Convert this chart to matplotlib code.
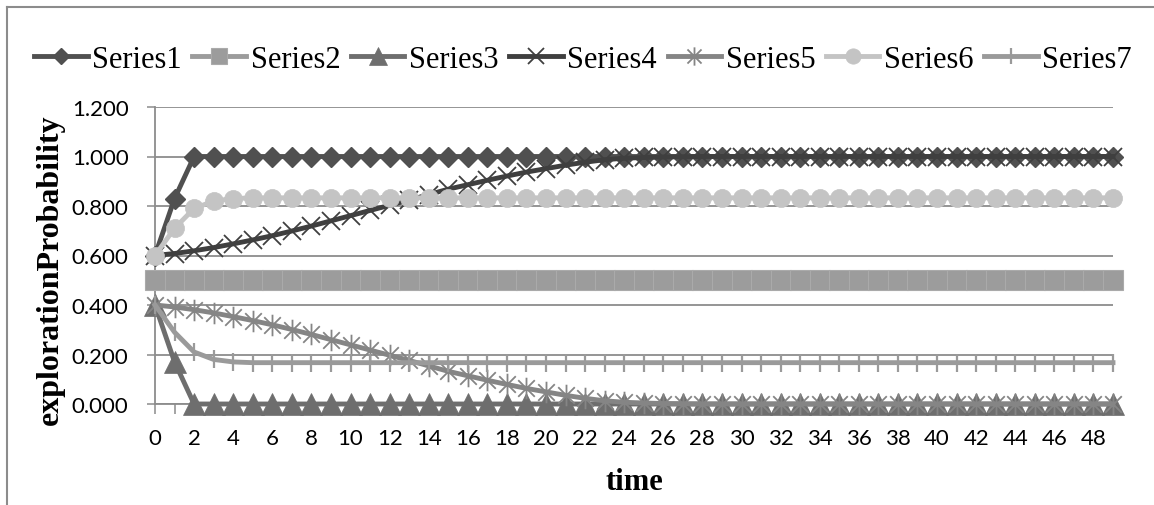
import matplotlib
matplotlib.use("Agg")
import matplotlib.pyplot as plt
from matplotlib.path import Path
from matplotlib.lines import Line2D

# data
time = list(range(50))
tick_labels = [str(t) if t % 2 == 0 else "" for t in time]
series_names = ["Series1", "Series2", "Series3", "Series4", "Series5", "Series6", "Series7"]

series1 = [0.600, 0.830, 1.000, 1.000, 1.000, 1.000, 1.000, 1.000, 1.000, 1.000,
           1.000, 1.000, 1.000, 1.000, 1.000, 1.000, 1.000, 1.000, 1.000, 1.000,
           1.000, 1.000, 1.000, 1.000, 1.000, 1.000, 1.000, 1.000, 1.000, 1.000,
           1.000, 1.000, 1.000, 1.000, 1.000, 1.000, 1.000, 1.000, 1.000, 1.000,
           1.000, 1.000, 1.000, 1.000, 1.000, 1.000, 1.000, 1.000, 1.000, 1.000]
series2 = [0.500, 0.500, 0.500, 0.500, 0.500, 0.500, 0.500, 0.500, 0.500, 0.500,
           0.500, 0.500, 0.500, 0.500, 0.500, 0.500, 0.500, 0.500, 0.500, 0.500,
           0.500, 0.500, 0.500, 0.500, 0.500, 0.500, 0.500, 0.500, 0.500, 0.500,
           0.500, 0.500, 0.500, 0.500, 0.500, 0.500, 0.500, 0.500, 0.500, 0.500,
           0.500, 0.500, 0.500, 0.500, 0.500, 0.500, 0.500, 0.500, 0.500, 0.500]
series3 = [0.400, 0.170, 0.000, 0.000, 0.000, 0.000, 0.000, 0.000, 0.000, 0.000,
           0.000, 0.000, 0.000, 0.000, 0.000, 0.000, 0.000, 0.000, 0.000, 0.000,
           0.000, 0.000, 0.000, 0.000, 0.000, 0.000, 0.000, 0.000, 0.000, 0.000,
           0.000, 0.000, 0.000, 0.000, 0.000, 0.000, 0.000, 0.000, 0.000, 0.000,
           0.000, 0.000, 0.000, 0.000, 0.000, 0.000, 0.000, 0.000, 0.000, 0.000]
series4 = [0.600, 0.608, 0.619, 0.632, 0.647, 0.663, 0.680, 0.699, 0.719, 0.740,
           0.761, 0.782, 0.803, 0.824, 0.846, 0.868, 0.886, 0.904, 0.921, 0.937,
           0.951, 0.965, 0.977, 0.987, 0.993, 0.996, 0.998, 0.999, 1.000, 1.000,
           1.000, 1.000, 1.000, 1.000, 1.000, 1.000, 1.000, 1.000, 1.000, 1.000,
           1.000, 1.000, 1.000, 1.000, 1.000, 1.000, 1.000, 1.000, 1.000, 1.000]
series5 = [0.400, 0.392, 0.381, 0.368, 0.353, 0.337, 0.320, 0.301, 0.281, 0.260,
           0.239, 0.218, 0.197, 0.176, 0.154, 0.132, 0.114, 0.096, 0.079, 0.063,
           0.049, 0.035, 0.023, 0.013, 0.007, 0.004, 0.002, 0.001, 0.000, 0.000,
           0.000, 0.000, 0.000, 0.000, 0.000, 0.000, 0.000, 0.000, 0.000, 0.000,
           0.000, 0.000, 0.000, 0.000, 0.000, 0.000, 0.000, 0.000, 0.000, 0.000]
series6 = [0.600, 0.710, 0.790, 0.820, 0.830, 0.833, 0.833, 0.833, 0.833, 0.833,
           0.833, 0.833, 0.833, 0.833, 0.833, 0.833, 0.833, 0.833, 0.833, 0.833,
           0.833, 0.833, 0.833, 0.833, 0.833, 0.833, 0.833, 0.833, 0.833, 0.833,
           0.833, 0.833, 0.833, 0.833, 0.833, 0.833, 0.833, 0.833, 0.833, 0.833,
           0.833, 0.833, 0.833, 0.833, 0.833, 0.833, 0.833, 0.833, 0.833, 0.833]
series7 = [0.400, 0.290, 0.210, 0.180, 0.170, 0.167, 0.167, 0.167, 0.167, 0.167,
           0.167, 0.167, 0.167, 0.167, 0.167, 0.167, 0.167, 0.167, 0.167, 0.167,
           0.167, 0.167, 0.167, 0.167, 0.167, 0.167, 0.167, 0.167, 0.167, 0.167,
           0.167, 0.167, 0.167, 0.167, 0.167, 0.167, 0.167, 0.167, 0.167, 0.167,
           0.167, 0.167, 0.167, 0.167, 0.167, 0.167, 0.167, 0.167, 0.167, 0.167]
all_series = [series1, series2, series3, series4, series5, series6, series7]

# excel style "*" marker: an x with a vertical bar
star = Path([(-1, -1), (1, 1), (-1, 1), (1, -1), (0, -1.3), (0, 1.3)],
            [Path.MOVETO, Path.LINETO, Path.MOVETO, Path.LINETO, Path.MOVETO, Path.LINETO])

styles = [
    dict(color="#505050", edge="#505050", marker="D", ms=10, mew=1),
    dict(color="#9c9c9c", edge="#aaaaaa", marker="s", ms=14, mew=0.8),
    dict(color="#6e6e6e", edge="#6e6e6e", marker="^", ms=15.5, mew=0.5),
    dict(color="#3f3f3f", edge="#3f3f3f", marker="x", ms=13.5, mew=1.3),
    dict(color="#858585", edge="#858585", marker=star, ms=15.5, mew=1.3),
    dict(color="#c4c4c4", edge="#c4c4c4", marker="o", ms=13, mew=0.5),
    dict(color="#9a9a9a", edge="#9a9a9a", marker="|", ms=13, mew=1.6),
]

fig = plt.figure(figsize=(11.54, 5.06), dpi=100)
ax = fig.add_axes([155 / 1154, 1 - 405 / 506, 958 / 1154, 297 / 506])

grid_gray = "#8c8c8c"
ax.set_axisbelow(True)
ax.yaxis.grid(True, color=grid_gray, lw=1.3)

for name, vals, st in zip(series_names, all_series, styles):
    ax.plot(time, vals, label=name, lw=3.5, color=st["color"], marker=st["marker"],
            markersize=st["ms"], markeredgewidth=st["mew"], markerfacecolor=st["color"],
            markeredgecolor=st["edge"], clip_on=False, zorder=3)

ax.set_xlim(0, 49)
ax.set_ylim(0, 1.2)
ax.set_yticks([0.0, 0.2, 0.4, 0.6, 0.8, 1.0, 1.2])
ax.set_yticklabels(["%.3f" % v for v in [0.0, 0.2, 0.4, 0.6, 0.8, 1.0, 1.2]])
ax.set_xticks(time)
ax.set_xticklabels(tick_labels)

for s in ["top", "right"]:
    ax.spines[s].set_visible(False)
for s in ["left", "bottom"]:
    ax.spines[s].set_color(grid_gray)
    ax.spines[s].set_linewidth(1.3)

ax.tick_params(axis="y", length=6, width=1.1, color=grid_gray, pad=13, labelsize=16)
ax.tick_params(axis="x", length=7, width=1.1, color=grid_gray, pad=10, labelsize=16)
for lab in ax.get_xticklabels() + ax.get_yticklabels():
    lab.set_fontfamily("Lato")

fig.text(50 / 1154, 1 - 270 / 506, "explorationProbability", rotation=90, ha="center",
         va="center", fontsize=23, fontweight="bold", family="Liberation Serif")
fig.text(634 / 1154, 1 - 483 / 506, "time", ha="center", va="center", fontsize=22,
         fontweight="bold", family="Liberation Serif")

fig.legend(loc="center", bbox_to_anchor=(583 / 1154, 1 - 60 / 506), ncol=7, frameon=False,
           prop={"family": "Liberation Serif", "size": 22}, handlelength=1.75,
           handletextpad=0.15, columnspacing=0.35, markerscale=0.85, borderaxespad=0)

# chart area border (only the top and left edges are in frame)
fig.add_artist(Line2D([7 / 1154, 1.01], [1 - 8 / 506, 1 - 8 / 506], color=grid_gray, lw=1.5,
                      transform=fig.transFigure))
fig.add_artist(Line2D([7 / 1154, 7 / 1154], [1 - 8 / 506, -0.01], color=grid_gray, lw=1.5,
                      transform=fig.transFigure))

fig.savefig("out.png", dpi=100)
